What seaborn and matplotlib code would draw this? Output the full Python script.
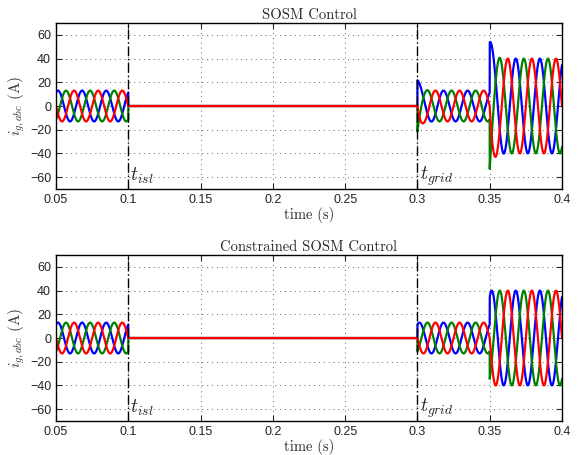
import numpy as np
import matplotlib
matplotlib.use("Agg")
import matplotlib.pyplot as plt
import seaborn as sns

# waveform description
freq_hz = 60.0
t_start = 0.05
t_end = 0.4
t_isl = 0.1
t_grid = 0.3
t_step = 0.35
# current amplitude (A) in each interval: before islanding, islanded, after reconnection, after step
amp_levels = [13.0, 0.0, 13.0, 40.0]
# overshoot (A) at reconnection and at the load step, per panel
overshoot_sosm = [12.0, 22.0]
overshoot_constrained = [0.0, 0.0]
overshoot_tau = 0.002
phase_offsets = [0.0, -2 * np.pi / 3, -4 * np.pi / 3]   # blue, green, red
phase_colors = ["#0000ff", "#008000", "#ff0000"]
titles = ["SOSM Control", "Constrained SOSM Control"]
x_ticks = [0.05, 0.1, 0.15, 0.2, 0.25, 0.3, 0.35, 0.4]
y_ticks = [-60, -40, -20, 0, 20, 40, 60]


def envelope(t, overshoot):
    a = np.where(t < t_isl, amp_levels[0],
        np.where(t < t_grid, amp_levels[1],
        np.where(t < t_step, amp_levels[2], amp_levels[3])))
    for ts, ov in zip([t_grid, t_step], overshoot):
        a = a + np.where(t >= ts, ov * np.exp(-(t - ts) / overshoot_tau), 0.0)
    return a


t = np.linspace(t_start, t_end, 8000)
theta = 2 * np.pi * freq_hz * (t - t_start) - np.pi / 6

sns.set_style("ticks")
plt.rcParams["mathtext.fontset"] = "cm"
plt.rcParams["font.family"] = ["Liberation Sans", "DejaVu Sans"]
plt.rcParams["axes.unicode_minus"] = False

fig = plt.figure(figsize=(5.82, 4.55), dpi=100)
ax_top = fig.add_axes([0.0962, 0.5846, 0.8694, 0.3648])
ax_bot = fig.add_axes([0.0962, 0.0747, 0.8694, 0.3648])

serif = ["cmr10", "DejaVu Serif"]
for ax, title, ov in zip([ax_top, ax_bot], titles, [overshoot_sosm, overshoot_constrained]):
    env = envelope(t, ov)
    for ph, col in zip(phase_offsets, phase_colors):
        sns.lineplot(x=t, y=env * np.cos(theta + ph), ax=ax, color=col, lw=1.6)
    ax.axvline(t_isl, color="black", lw=1.0, dashes=(7, 2, 1, 2))
    ax.axvline(t_grid, color="black", lw=1.0, dashes=(7, 2, 1, 2))
    ax.text(t_isl + 0.0015, -59, r"$t_{isl}$", fontsize=14, va="center", ha="left")
    ax.text(t_grid + 0.0015, -59, r"$t_{grid}$", fontsize=14, va="center", ha="left")
    ax.set_xlim(t_start, t_end)
    ax.set_ylim(-70, 70)
    ax.set_xticks(x_ticks)
    ax.set_xticklabels(["0.05", "0.1", "0.15", "0.2", "0.25", "0.3", "0.35", "0.4"])
    ax.set_yticks(y_ticks)
    ax.set_yticklabels(["\u221260", "\u221240", "\u221220", "0", "20", "40", "60"])
    ax.grid(True, ls=(0, (1, 4)), color="#666666", lw=0.7)
    ax.tick_params(direction="in", top=True, right=True, length=4, labelsize=9,
                   labelcolor="#222222")
    for s in ax.spines.values():
        s.set_linewidth(1.0)
        s.set_color("black")
    ax.set_title(title, fontsize=10.5, family=serif, pad=3)
    ax.set_xlabel("time (s)", fontsize=10.5, family=serif, labelpad=1)
    ax.set_ylabel(r"$i_{g,abc}$ (A)", fontsize=11, family=serif, labelpad=2,
                  color="#333333")

fig.savefig("out.png", dpi=100)
